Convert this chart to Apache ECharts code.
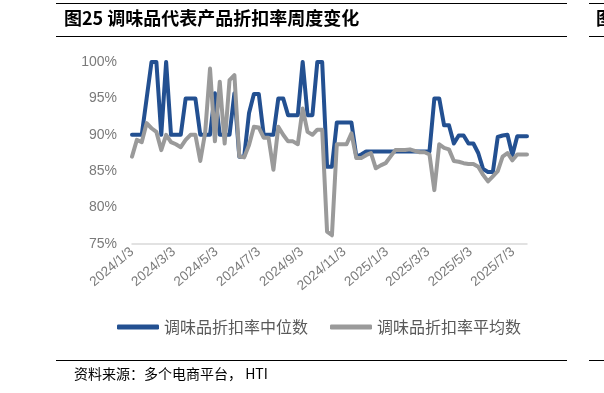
<!DOCTYPE html>
<html>
<head>
<meta charset="utf-8">
<script src="https://cdn.jsdelivr.net/npm/echarts@6/dist/echarts.min.js"></script>
<style>
html,body{margin:0;padding:0;background:#fff;}
#chart{width:604px;height:393px;}
</style>
</head>
<body>
<div id="chart"></div>
<script>
// ---- data ----
const startDate = [2024, 0, 3];          // first weekly observation (Wednesday)
const tickDates = ['2024/1/3','2024/3/3','2024/5/3','2024/7/3','2024/9/3','2024/11/3','2025/1/3','2025/3/3','2025/5/3','2025/7/3'];
const seriesNames = ['调味品折扣率中位数', '调味品折扣率平均数'];
const medianValues = [
  90, 90, 90, 95, 100, 100, 90, 100, 90, 90,
  90, 95, 95, 95, 90, 90, 90, 95.7, 90, 90,
  90, 95.7, 87, 87, 93, 95.6, 95.6, 90, 90, 90,
  95, 95, 92.7, 92.7, 92.7, 100, 92.7, 92.7, 100, 100,
  85.6, 85.6, 91.7, 91.7, 91.7, 91.7, 87, 87.3, 87.7, 87.7,
  87.7, 87.7, 87.7, 87.7, 87.7, 87.7, 87.7, 87.7, 87.7, 87.7,
  87.7, 87.7, 95, 95, 91.3, 91.3, 88.8, 89.9, 89.9, 88.8,
  88.8, 87.5, 85.3, 84.9, 84.9, 89.7, 89.9, 90, 87.2, 89.8,
  89.8, 89.8
];
const meanValues = [
  87.0, 89.3, 89.0, 91.6, 90.9, 90.4, 87.9, 90.0, 89.0, 88.7,
  88.3, 89.3, 90.0, 90.0, 86.4, 90.3, 99.1, 89.1, 97.3, 88.8,
  97.5, 98.2, 87.0, 86.9, 88.6, 91.1, 91.0, 89.6, 89.6, 85.2,
  91.1, 90.0, 89.1, 89.1, 88.7, 93.6, 90.4, 90.0, 90.7, 90.7,
  76.7, 76.2, 88.7, 88.7, 88.7, 90.2, 86.8, 86.8, 87.2, 87.5,
  85.4, 85.8, 86.1, 87.0, 87.9, 87.9, 87.9, 88.0, 87.8, 87.6,
  87.6, 87.3, 82.4, 88.7, 88.2, 88.0, 86.4, 86.3, 86.1, 86.0,
  86.0, 85.6, 84.5, 83.6, 84.3, 85.0, 87.0, 87.5, 86.5, 87.3,
  87.3, 87.3
];
const yMin = 75, yMax = 100, yStep = 5;

// ---- build (x measured in days since the first observation) ----
const DAY = 86400000;
const t0 = Date.UTC(startDate[0], startDate[1], startDate[2]);
function dayOf(s){ const p = s.split('/').map(Number); return Math.round((Date.UTC(p[0], p[1]-1, p[2]) - t0)/DAY); }
function labelOf(day){ const d = new Date(t0 + day*DAY); return d.getUTCFullYear()+'/'+(d.getUTCMonth()+1)+'/'+d.getUTCDate(); }
const medianData = medianValues.map((v,i)=>[7*i, v]);
const meanData = meanValues.map((v,i)=>[7*i, v]);
const tickDays = tickDates.map(dayOf);

const CJK = '"Noto Sans CJK SC", "Noto Sans", sans-serif';
const chart = echarts.init(document.getElementById('chart'), null, {renderer:'canvas'});
chart.setOption({
  animation:false,
  backgroundColor:'#ffffff',
  color:['#235091','#9a9a9a'],
  grid:{left:132, right:77, top:62, bottom:149},
  legend:{
    top:319, left:117, padding:0,
    itemWidth:42, itemHeight:5, itemGap:22,
    icon:'roundRect',
    textStyle:{fontFamily:CJK, fontSize:16, color:'#595959'},
    data:seriesNames
  },
  xAxis:{
    type:'value',
    min:0, max:7*(medianValues.length-1),
    axisLine:{show:true, onZero:false, lineStyle:{color:'#d9d9d9', width:1.5}},
    axisTick:{show:false},
    splitLine:{show:false},
    axisLabel:{
      customValues:tickDays,
      rotate:40,
      margin:6,
      fontFamily:'"Liberation Sans", Arial, sans-serif',
      fontSize:13.5,
      color:'#7a7a7a',
      hideOverlap:false,
      showMinLabel:true, showMaxLabel:true,
      formatter:function(v){ return labelOf(v); }
    }
  },
  yAxis:{
    type:'value', min:yMin, max:yMax, interval:yStep,
    axisLine:{show:false}, axisTick:{show:false},
    splitLine:{show:false},
    axisLabel:{margin:15, fontFamily:'"Liberation Sans", Arial, sans-serif', fontSize:14, color:'#7a7a7a', formatter:'{value}%'}
  },
  series:[
    {name:seriesNames[0], type:'line', data:medianData, symbol:'none', lineStyle:{width:4, color:'#235091', join:'round', cap:'round'}},
    {name:seriesNames[1], type:'line', data:meanData, symbol:'none', lineStyle:{width:4, color:'#9a9a9a', join:'round', cap:'round'}}
  ],
  graphic:[
    {type:'line', shape:{x1:56, y1:3.5, x2:567, y2:3.5}, style:{stroke:'#000', lineWidth:1}},
    {type:'line', shape:{x1:56, y1:36.5, x2:567, y2:36.5}, style:{stroke:'#000', lineWidth:1}},
    {type:'line', shape:{x1:589, y1:3.5, x2:604, y2:3.5}, style:{stroke:'#000', lineWidth:1}},
    {type:'line', shape:{x1:589, y1:36.5, x2:604, y2:36.5}, style:{stroke:'#000', lineWidth:1}},
    {type:'text', left:64, top:9, style:{text:'图25 调味品代表产品折扣率周度变化', font:'bold 18px '+CJK, fill:'#000'}},
    {type:'text', left:596, top:9, style:{text:'图', font:'bold 18px '+CJK, fill:'#000'}},
    {type:'line', shape:{x1:56, y1:360.5, x2:567, y2:360.5}, style:{stroke:'#000', lineWidth:1}},
    {type:'line', shape:{x1:589, y1:360.5, x2:604, y2:360.5}, style:{stroke:'#000', lineWidth:1}},
    {type:'text', left:74, top:367, style:{text:'资料来源：多个电商平台， HTI', font:'14px '+CJK, fill:'#000'}}
  ]
});
</script>
</body>
</html>
